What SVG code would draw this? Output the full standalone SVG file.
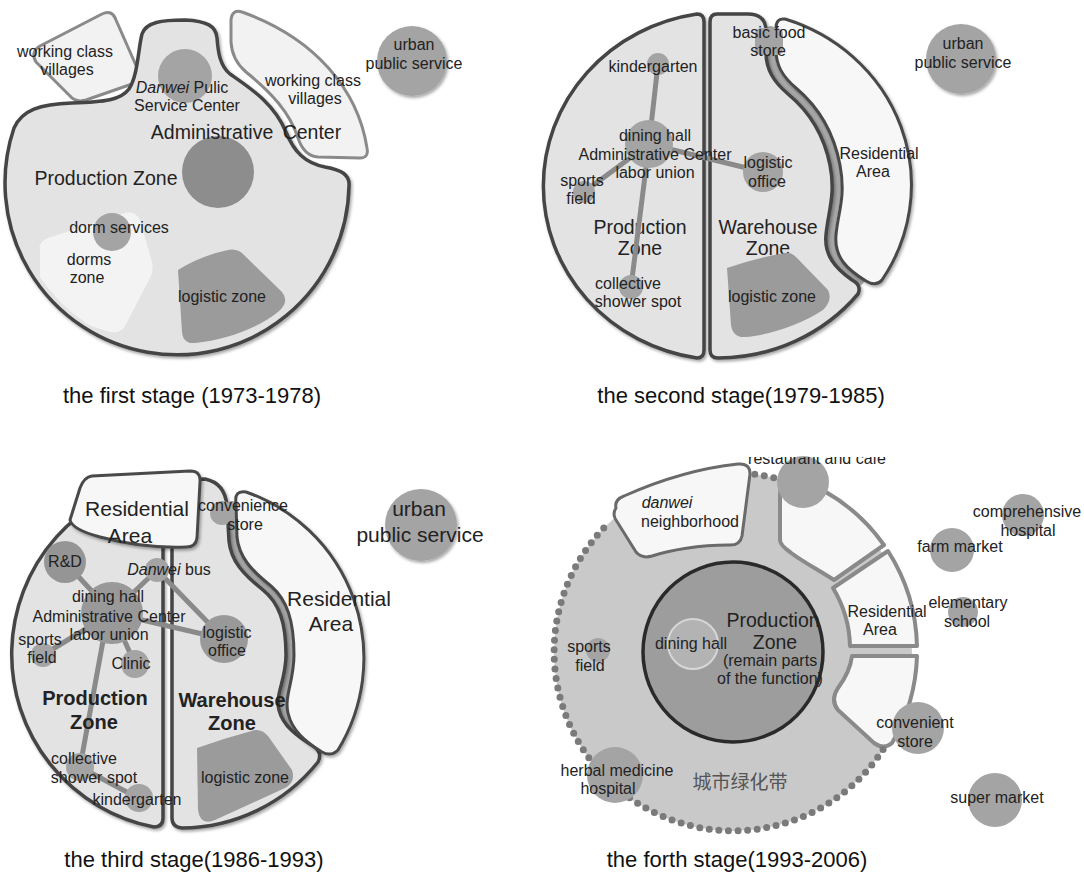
<svg xmlns="http://www.w3.org/2000/svg" width="1084" height="878" viewBox="0 0 1084 878">
<defs>
<style>
.zone{fill:#e3e3e3;stroke:#454545;stroke-width:3.5;stroke-linejoin:round}
.white{fill:#f7f7f7;stroke:#4a4a4a;stroke-width:3;stroke-linejoin:round}
.village{fill:#f2f2f2;stroke:#8a8a8a;stroke-width:3;stroke-linejoin:round}
.node{fill:#a4a4a4}
.dark{fill:#9b9b9b}
.road{fill:none;stroke:#a8a8a8;stroke-width:8;stroke-linecap:round}
.link{fill:none;stroke:#8a8a8a;stroke-width:5;stroke-linecap:round}
.dots{fill:none;stroke:#7a7a7a;stroke-width:7;stroke-linecap:round;stroke-dasharray:0 9.6}
.t{font-family:"Liberation Sans",Arial,sans-serif;font-size:16px;fill:#222;text-anchor:middle}
.big{font-size:19.5px}
.xl{font-size:21px}
.bold{font-weight:bold;font-size:20px}
.cap{font-size:22px;fill:#111}
.cjk{font-family:"Noto Sans CJK SC",sans-serif;font-size:19px;fill:#555;text-anchor:middle}
</style>
<filter id="sh" x="-20%" y="-20%" width="140%" height="140%">
<feDropShadow dx="1.5" dy="2" stdDeviation="1.5" flood-color="#000" flood-opacity="0.35"/>
</filter>
<clipPath id="clipTop"><rect x="700" y="457" width="250" height="40"/></clipPath>
<clipPath id="clipP1"><circle cx="179" cy="183" r="168"/></clipPath>
</defs>
<rect width="1084" height="878" fill="#ffffff"/>

<!-- ============ PANEL 1 ============ -->
<g id="p1-villages-left">
<path class="village" d="M 36,62 Q 30,52 40,46 L 102,14 Q 112,9 116,20 L 138,70 Q 142,80 132,84 L 86,100 Q 76,103 70,96 Z"/>
<text class="t" x="65" y="57">working class</text>
<text class="t" x="67" y="75">villages</text>
</g>
<g id="p1-villages-right">
<path class="village" d="M 242,12 Q 232,9 231,20 L 231,42 Q 232,60 246,72 C 272,93 290,113 298,138 Q 304,156 318,157 L 360,158 Q 369,158 367,148 C 358,90 315,38 242,12 Z"/>
</g>
<g id="p1-production-zone">
<path class="zone" filter="url(#sh)" d="M 14,128 A 172 172 0 1 0 349,186 C 350,175 342,170 325,167 C 305,163 294,152 286,132 C 274,103 250,88 230,74 C 220,66 218,52 217,38 C 216,26 207,21 185,20 C 162,20 146,22 142,34 C 138,50 138,75 129,89 C 121,100 105,102 72,103 C 40,104 22,110 14,128 Z"/>
<text class="t big" x="106" y="185">Production Zone</text>
</g>
<g id="p1-dorms-zone">
<path fill="#f3f3f3" clip-path="url(#clipP1)" d="M 40,250 Q 38,242 48,238 L 125,213 Q 135,210 140,220 L 152,262 Q 154,270 150,278 L 125,326 Q 120,334 110,332 L 40,310 Z"/>
<text class="t" x="89" y="265">dorms</text>
<text class="t" x="87" y="283">zone</text>
</g>
<g id="p1-dorm-services">
<circle class="node" cx="112" cy="232" r="19"/>
<text class="t" x="119" y="233">dorm services</text>
</g>
<g id="p1-logistic-zone">
<path class="dark" d="M 178,270 Q 200,256 228,250 Q 238,248 245,256 L 282,292 Q 290,302 278,312 C 255,330 225,340 195,343 Q 183,344 182,332 Z"/>
<text class="t" x="222" y="302">logistic zone</text>
</g>
<g id="p1-service-center">
<circle class="node" cx="185" cy="76" r="27"/>
<text class="t" x="182" y="93"><tspan font-style="italic">Danwei</tspan> Pulic</text>
<text class="t" x="187" y="111">Service Center</text>
</g>
<g id="p1-admin-center">
<circle fill="#8d8d8d" cx="218" cy="172" r="36"/>
<text class="t big" x="246" y="139" word-spacing="4">Administrative Center</text>
</g>
<g id="p1-villages-right-label">
<text class="t" x="313" y="86">working class</text>
<text class="t" x="315" y="104">villages</text>
</g>
<g id="p1-urban">
<circle class="node" filter="url(#sh)" cx="412" cy="61" r="35"/>
<text class="t" x="414" y="50">urban</text>
<text class="t" x="414" y="69">public service</text>
</g>
<text class="t cap" x="192" y="403">the first stage (1973-1978)</text>

<!-- ============ PANEL 2 ============ -->
<g id="p2-production-zone">
<path class="zone" filter="url(#sh)" d="M 697,14 Q 704,14 704,22 L 704,350 Q 704,358 697,358 A 181 174 0 0 1 697,14 Z"/>
<text class="t big" x="640" y="234">Production</text>
<text class="t big" x="640" y="255">Zone</text>
</g>
<path class="road" d="M 771,30 L 771,51 C 771,68 778,79 792,91 C 810,106 829,130 835,165 C 841,197 832,212 831,235 C 829,256 842,268 860,281"/>
<g id="p2-warehouse-zone">
<path class="zone" filter="url(#sh)" d="M 717,14 Q 710,14 710,22 L 710,350 Q 710,358 718,358 A 181 174 0 0 0 858,294 Q 862,285 852,280 C 835,268 824,255 826,235 C 828,212 836,195 830,165 C 823,130 805,108 788,94 C 774,82 766,70 766,52 L 766,28 Q 764,14 748,14 Z"/>
<text class="t big" x="768" y="234">Warehouse</text>
<text class="t big" x="768" y="255">Zone</text>
</g>
<g id="p2-residential">
<path class="white" filter="url(#sh)" d="M 785,19 A 181 174 0 0 1 882,280 Q 876,287 866,281 C 848,270 834,258 836,235 C 838,212 846,197 840,165 C 833,128 815,104 796,88 C 782,76 776,65 776,50 L 776,28 Q 776,18 785,19 Z"/>
<text class="t" x="879" y="159">Residential</text>
<text class="t" x="873" y="177">Area</text>
</g>
<g id="p2-logistic-zone">
<path class="dark" d="M 727,268 Q 755,258 785,253 Q 792,252 797,258 L 828,290 Q 833,300 823,310 C 800,325 770,335 745,337 Q 733,338 731,325 Z"/>
<text class="t" x="772" y="302">logistic zone</text>
</g>
<g id="p2-basic-food-store">
<rect class="node" x="755" y="28" width="28" height="27" rx="6"/>
<text class="t" x="769" y="38">basic food</text>
<text class="t" x="768" y="56">store</text>
</g>

<!-- ============ PANEL 3 ============ -->
<g id="p3-production-zone">
<path class="zone" filter="url(#sh)" d="M 163,480 L 163,818 Q 163,827 154,827 A 176 176 0 0 1 163,480 Z"/>
</g>
<path class="road" d="M 232,505 L 233,538 C 235,558 247,571 267,588 C 283,601 290,621 290,655 C 290,680 280,695 284,712 C 288,728 301,739 318,749"/>
<g id="p3-warehouse-zone">
<path class="zone" filter="url(#sh)" d="M 180,480 Q 172,481 172,490 L 172,818 Q 172,827 182,828 A 176 176 0 0 0 318,762 Q 323,752 313,746 C 297,736 283,726 279,710 C 275,694 286,680 286,655 C 286,622 279,603 263,590 C 243,574 231,561 229,541 L 227,506 Q 225,483 205,479 Z"/>
</g>
<g id="p3-residential-right">
<path class="white" filter="url(#sh)" d="M 236,503 Q 234,490 246,492 A 176 176 0 0 1 338,750 Q 331,757 322,752 C 306,742 292,731 288,713 C 284,696 294,681 294,655 C 294,620 287,600 271,586 C 251,570 239,557 237,537 Z"/>
<text class="t xl" x="339" y="606">Residential</text>
<text class="t xl" x="331" y="631">Area</text>
</g>
<g id="p3-logistic-zone">
<path class="dark" d="M 197,748 Q 225,738 255,730 Q 262,729 268,736 L 292,770 Q 296,782 285,788 L 215,820 Q 200,826 198,810 Z"/>
<text class="t" x="245" y="783">logistic zone</text>
</g>
<g id="p3-residential-top">
<path class="white" filter="url(#sh)" d="M 92,476 L 190,471 Q 201,471 200,482 L 197,538 Q 196,547 186,547 C 160,548 130,545 100,537 C 85,533 72,528 70,520 L 80,488 Q 84,477 92,476 Z"/>
<text class="t xl" x="137" y="516">Residential</text>
<text class="t xl" x="130" y="543">Area</text>
</g>

<!-- ============ CONNECTORS ============ -->
<g id="connectors">
<line class="link" x1="649" y1="144" x2="658" y2="64"/>
<line class="link" x1="649" y1="144" x2="584" y2="192"/>
<line class="link" x1="649" y1="144" x2="763" y2="172"/>
<line class="link" x1="649" y1="144" x2="631" y2="287"/>
<line class="link" x1="112" y1="613" x2="65" y2="562"/>
<line class="link" x1="112" y1="613" x2="157" y2="570"/>
<line class="link" x1="157" y1="570" x2="224" y2="639"/>
<line class="link" x1="112" y1="613" x2="224" y2="639"/>
<line class="link" x1="112" y1="613" x2="43" y2="655"/>
<line class="link" x1="112" y1="613" x2="135" y2="664"/>
<line class="link" x1="105" y1="630" x2="80" y2="767"/>
<line class="link" x1="80" y1="767" x2="138" y2="798"/>
</g>

<!-- panel 2 nodes -->
<g id="p2-kindergarten">
<circle class="node" cx="658" cy="64" r="11"/>
<text class="t" x="653" y="72">kindergarten</text>
</g>
<g id="p2-dining-hall">
<circle class="node" cx="649" cy="144" r="24"/>
<text class="t" x="655" y="141">dining hall</text>
<text class="t" x="655" y="160">Administrative Center</text>
<text class="t" x="655" y="178">labor union</text>
</g>
<g id="p2-sports-field">
<circle class="node" cx="584" cy="192" r="11"/>
<text class="t" x="582" y="186">sports</text>
<text class="t" x="581" y="204">field</text>
</g>
<g id="p2-logistic-office">
<circle class="node" cx="763" cy="172" r="20"/>
<text class="t" x="768" y="168">logistic</text>
<text class="t" x="767" y="187">office</text>
</g>
<g id="p2-shower">
<circle class="node" cx="631" cy="287" r="12"/>
<text class="t" x="628" y="289">collective</text>
<text class="t" x="638" y="307">shower spot</text>
</g>
<g id="p2-urban">
<circle class="node" filter="url(#sh)" cx="961" cy="59" r="35"/>
<text class="t" x="963" y="49">urban</text>
<text class="t" x="963" y="68">public service</text>
</g>
<text class="t cap" x="741" y="403">the second stage(1979-1985)</text>

<!-- panel 3 nodes -->
<g id="p3-convenience-store">
<circle class="node" cx="222" cy="513" r="12"/>
<text class="t" x="243" y="511">convenience</text>
<text class="t" x="245" y="530">store</text>
</g>
<g id="p3-rd">
<circle fill="#959595" cx="65" cy="562" r="21"/>
<text class="t" x="65" y="567">R&amp;D</text>
</g>
<g id="p3-danwei-bus">
<circle class="node" cx="157" cy="570" r="12"/>
<text class="t" x="169" y="575"><tspan font-style="italic">Danwei</tspan> bus</text>
</g>
<g id="p3-dining-hall">
<circle fill="#999999" cx="112" cy="613" r="31"/>
<text class="t" x="108" y="602">dining hall</text>
<text class="t" x="109" y="622">Administrative Center</text>
<text class="t" x="109" y="640">labor union</text>
</g>
<g id="p3-sports-field">
<circle class="node" cx="43" cy="655" r="12"/>
<text class="t" x="40" y="645">sports</text>
<text class="t" x="42" y="663">field</text>
</g>
<g id="p3-clinic">
<circle class="node" cx="135" cy="664" r="14"/>
<text class="t" x="131" y="669">Clinic</text>
</g>
<g id="p3-logistic-office">
<circle fill="#999999" cx="224" cy="639" r="24"/>
<text class="t" x="227" y="638">logistic</text>
<text class="t" x="227" y="656">office</text>
</g>
<g id="p3-shower">
<circle class="node" cx="80" cy="767" r="14"/>
<text class="t" x="84" y="764">collective</text>
<text class="t" x="94" y="783">shower spot</text>
</g>
<g id="p3-kindergarten">
<circle class="node" cx="139" cy="798" r="14"/>
<text class="t" x="137" y="805">kindergarten</text>
</g>
<g id="p3-zone-labels">
<text class="t bold" x="95" y="705">Production</text>
<text class="t bold" x="94" y="729">Zone</text>
<text class="t bold" x="232" y="707">Warehouse</text>
<text class="t bold" x="232" y="730">Zone</text>
</g>
<g id="p3-urban">
<circle class="node" filter="url(#sh)" cx="421" cy="525" r="36"/>
<text class="t xl" x="419" y="516">urban</text>
<text class="t xl" x="420" y="542">public service</text>
</g>
<text class="t cap" x="194" y="867">the third stage(1986-1993)</text>

<!-- ============ PANEL 4 ============ -->
<g id="p4-green-belt">
<circle fill="#c9c9c9" cx="733" cy="652" r="179"/>
<text class="cjk" x="740" y="789">城市绿化带</text>
</g>
<g id="p4-sector-top">
<path class="white" style="stroke:#8a8a8a;stroke-width:4" d="M 780,540 L 780,495 Q 780,480 795,478 A 184 184 0 0 1 884,545 L 834,580 C 815,568 800,560 790,552 Q 780,545 780,540 Z"/>
</g>
<g id="p4-residential">
<path class="white" style="stroke:#8a8a8a;stroke-width:4" d="M 833,588 L 888,551 A 184 184 0 0 1 917,646 L 850,646 A 117 117 0 0 0 833,588 Z"/>
<text class="t" x="887" y="617">Residential</text>
<text class="t" x="880" y="635">Area</text>
</g>
<g id="p4-sector-bottom">
<path class="white" style="stroke:#8a8a8a;stroke-width:4" d="M 852,656 L 917,656 A 184 184 0 0 1 892,743 Q 884,750 874,743 L 838,710 Q 830,700 838,688 Q 850,672 852,656 Z"/>
</g>
<g id="p4-neighborhood">
<path class="white" style="stroke:#6a6a6a" d="M 616,508 Q 614,500 624,496 C 660,480 700,468 738,464 Q 750,463 750,474 L 742,536 Q 740,546 728,545 C 700,545 670,550 652,556 Q 642,559 636,552 L 616,520 Q 612,514 616,508 Z"/>
<text class="t" x="667" y="508" font-style="italic">danwei</text>
<text class="t" x="690" y="527">neighborhood</text>
</g>
<g id="p4-belt-dots">
<path class="dots" d="M 883.1,749.5 A 179 179 0 1 1 608.6,523.2"/>
<path class="dots" d="M 754.8,474.3 A 179 179 0 0 1 782.3,479.9"/>
</g>
<g id="p4-production-zone">
<circle fill="#9d9d9d" stroke="#2a2a2a" stroke-width="3.5" cx="733" cy="652" r="90"/>
<text class="t big" x="773" y="627">Production</text>
<text class="t big" x="775" y="649">Zone</text>
<text class="t" x="770" y="666">(remain parts</text>
<text class="t" x="770" y="684">of the function)</text>
</g>
<g id="p4-dining-hall">
<circle fill="#b3b3b3" stroke="#d6d6d6" stroke-width="2" cx="693" cy="644" r="25"/>
<text class="t" x="691" y="649">dining hall</text>
</g>
<g id="p4-sports-field">
<circle class="node" cx="598" cy="650" r="12"/>
<text class="t" x="589" y="652">sports</text>
<text class="t" x="590" y="671">field</text>
</g>
<g id="p4-herbal-hospital">
<circle class="node" cx="615" cy="775" r="28"/>
<text class="t" x="617" y="776">herbal medicine</text>
<text class="t" x="608" y="794">hospital</text>
</g>
<g id="p4-restaurant">
<circle class="node" cx="803" cy="482" r="26"/>
<text class="t" x="817" y="464" clip-path="url(#clipTop)">restaurant and cafe</text>
</g>
<g id="p4-convenient-store">
<circle class="node" cx="918" cy="728" r="26"/>
<text class="t" x="915" y="728">convenient</text>
<text class="t" x="915" y="747">store</text>
</g>
<g id="p4-comprehensive-hospital">
<circle class="node" cx="1023" cy="515" r="21"/>
<text class="t" x="1027" y="517">comprehensive</text>
<text class="t" x="1028" y="536">hospital</text>
</g>
<g id="p4-farm-market">
<circle class="node" cx="952" cy="550" r="22"/>
<text class="t" x="960" y="552">farm market</text>
</g>
<g id="p4-elementary-school">
<circle class="node" cx="963" cy="612" r="15"/>
<text class="t" x="968" y="608">elementary</text>
<text class="t" x="967" y="627">school</text>
</g>
<g id="p4-super-market">
<circle class="node" cx="995" cy="800" r="27"/>
<text class="t" x="997" y="803">super market</text>
</g>
<text class="t cap" x="737" y="867">the forth stage(1993-2006)</text>
</svg>
